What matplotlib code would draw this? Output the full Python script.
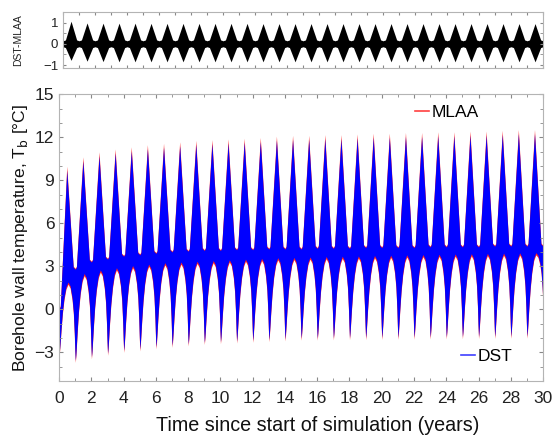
import numpy as np
import matplotlib.pyplot as plt
from matplotlib.ticker import MultipleLocator
from matplotlib.lines import Line2D

plt.rcParams['font.family'] = ['Liberation Sans', 'DejaVu Sans']

# --- values (one entry per simulated year) ---
# summer peak of the DST borehole wall temperature [degC]
peak_dst = [9.7, 10.35, 10.7, 10.9, 11.05, 11.2, 11.3, 11.4, 11.5, 11.55,
            11.6, 11.65, 11.7, 11.8, 11.85, 11.85, 11.9, 11.9, 11.95, 12.0,
            12.0, 12.05, 12.05, 12.1, 12.1, 12.15, 12.15, 12.2, 12.25, 12.25]
# top of the lower "bump" of the band [degC]
bump_dst = [1.9, 2.5, 2.75, 2.9, 3.05, 3.15, 3.25, 3.3, 3.35, 3.4,
            3.45, 3.5, 3.55, 3.6, 3.62, 3.65, 3.68, 3.7, 3.72, 3.75,
            3.77, 3.8, 3.82, 3.84, 3.86, 3.88, 3.9, 3.92, 3.94, 3.95]
# winter minimum at each year boundary (t = 0..30) [degC]
trough_dst = [-3.0, -3.55, -3.3, -3.05, -2.85, -2.75, -2.6, -2.5, -2.4, -2.3,
              -2.25, -2.2, -2.15, -2.1, -2.05, -2.0, -2.0, -1.98, -1.97, -1.96,
              -1.95, -1.94, -1.93, -1.92, -1.91, -1.9, -1.89, -1.88, -1.87, -1.86,
              0.5]
# upper edge of the band at each year boundary (t = 0..30) [degC]
neck_dst = [0.0, 2.8, 3.3, 3.5, 3.7, 3.8, 3.9, 4.0, 4.05, 4.1,
            4.1, 4.15, 4.15, 4.2, 4.2, 4.2, 4.25, 4.25, 4.25, 4.3,
            4.3, 4.3, 4.3, 4.35, 4.35, 4.35, 4.35, 4.4, 4.4, 4.4,
            4.4]
# how far the MLAA band sticks out of the DST band [degC]
mlaa_extra_peak = 0.28
mlaa_extra_neck = 0.06
mlaa_extra_low = 0.15

# DST-MLAA difference: annual lobe extremes
diff_max = [1.06, 0.98, 0.97, 0.97, 0.97, 0.96, 0.96, 0.96, 0.96, 0.96,
            0.96, 0.96, 0.95, 0.95, 0.95, 0.95, 0.95, 0.95, 0.95, 0.95,
            0.95, 0.95, 0.95, 0.95, 0.95, 0.95, 0.95, 0.95, 0.95, 0.95]
diff_min = [-0.78, -0.82, -0.84, -0.85, -0.85, -0.85, -0.85, -0.85, -0.85, -0.85,
            -0.85, -0.85, -0.85, -0.85, -0.85, -0.85, -0.85, -0.85, -0.85, -0.85,
            -0.85, -0.85, -0.85, -0.85, -0.85, -0.85, -0.85, -0.85, -0.85, -0.85]
diff_base = 0.14

# shape of one year of the (dense hourly) band
up_phase = [0.0, 0.07, 0.47, 0.87]
up_frac = [0.0, 0.02, 1.0, 0.02]
lo_phase = [0.0, 0.03, 0.06, 0.12, 0.2, 0.3, 0.42, 0.55, 0.68, 0.8, 0.88, 0.94, 0.97]
lo_frac = [0.0, 0.06, 0.15, 0.35, 0.58, 0.78, 0.93, 1.0, 0.95, 0.8, 0.62, 0.35, 0.15]


def band(extra_hi, extra_neck, extra_lo):
    xu, yu, xl, yl = [], [], [], []
    for k in range(len(peak_dst)):
        pk = peak_dst[k] + extra_hi
        for ph, f in zip(up_phase, up_frac):
            nk = (neck_dst[k] if ph < 0.47 else neck_dst[k + 1]) + extra_neck
            xu.append(k + ph)
            yu.append(nk + f * (pk - nk))
        bp = bump_dst[k] - extra_lo
        for ph, f in zip(lo_phase, lo_frac):
            tr = (trough_dst[k] if ph < 0.55 else trough_dst[k + 1]) - extra_lo
            xl.append(k + ph)
            yl.append(tr + f * (bp - tr))
    n = len(peak_dst)
    xu.append(n); yu.append(neck_dst[n] + extra_neck)
    xl.append(n); yl.append(trough_dst[n] - extra_lo)
    x = np.union1d(xu, xl)
    return x, np.interp(x, xu, yu), np.interp(x, xl, yl)


def diff_band():
    xs, ys_hi, ys_lo = [], [], []
    for k in range(len(diff_max)):
        for ph, hi, lo in [(0.0, diff_base, -diff_base),
                           (0.15, diff_base + 0.04, -diff_base - 0.04),
                           (0.5, diff_max[k], diff_min[k]),
                           (0.85, diff_base + 0.04, -diff_base - 0.04)]:
            xs.append(k + ph); ys_hi.append(hi); ys_lo.append(lo)
    xs.append(len(diff_max)); ys_hi.append(diff_base); ys_lo.append(-diff_base)
    return np.array(xs), np.array(ys_hi), np.array(ys_lo)


fig = plt.figure(figsize=(5.53, 4.40), dpi=100)
ax_top = fig.add_axes([0.114, 0.845, 0.868, 0.128])
ax = fig.add_axes([0.107, 0.134, 0.875, 0.652])

spine_col = '#b4b4b4'

# main panel
xm, um, lm = band(mlaa_extra_peak, mlaa_extra_neck, mlaa_extra_low)
ax.fill_between(xm, lm, um, color='#ff2020', lw=0)
xd, ud, ld = band(0.0, 0.0, 0.0)
ax.fill_between(xd, ld, ud, color='#0000ff', lw=0)

ax.set_xlim(0, 30)
ax.set_ylim(-5, 15)
ax.xaxis.set_major_locator(MultipleLocator(2))
ax.xaxis.set_minor_locator(MultipleLocator(1))
ax.yaxis.set_major_locator(MultipleLocator(3))
ax.yaxis.set_minor_locator(MultipleLocator(1))
ax.tick_params(which='both', direction='in', top=True, right=True,
               color='#888888', labelsize=12.5, labelcolor='#222222')
ax.tick_params(which='major', length=3)
ax.tick_params(which='minor', length=2)
ax.tick_params(axis='x', pad=7)
for s in ax.spines.values():
    s.set_color(spine_col)
ax.set_xlabel('Time since start of simulation (years)', fontsize=14.2,
              color='#111111')
ax.xaxis.set_label_coords(0.535, -0.122)
ax.set_ylabel('Borehole wall temperature, T$_\\mathrm{b}$ [°C]', fontsize=12.6,
              color='#111111', labelpad=3)

leg1 = ax.legend([Line2D([], [], color='#ff4040', lw=1.2)], ['MLAA'],
                 loc='center left', bbox_to_anchor=(0.735, 0.937),
                 frameon=False, fontsize=12.5, handlelength=0.8,
                 handletextpad=0.15, borderpad=0, borderaxespad=0)
ax.add_artist(leg1)
ax.legend([Line2D([], [], color='#4040ff', lw=1.2)], ['DST'],
          loc='center left', bbox_to_anchor=(0.83, 0.087),
          frameon=False, fontsize=12.5, handlelength=0.8,
          handletextpad=0.15, borderpad=0, borderaxespad=0)

# difference panel
xt, ht, lt = diff_band()
ax_top.fill_between(xt, lt, ht, color='black', lw=0)
ax_top.set_xlim(0, 30)
ax_top.set_ylim(-1.15, 1.5)
ax_top.xaxis.set_major_locator(MultipleLocator(1))
ax_top.yaxis.set_major_locator(MultipleLocator(1))
ax_top.yaxis.set_minor_locator(MultipleLocator(0.5))
ax_top.tick_params(which='both', direction='in', top=True, right=True,
                   color='#888888', labelsize=9.5, labelcolor='#222222',
                   labelbottom=False, length=2.5)
for s in ax_top.spines.values():
    s.set_color(spine_col)
ax_top.set_ylabel('DST-MLAA', fontsize=7.5, color='#222222', labelpad=14)

fig.savefig('out.png', dpi=100)
